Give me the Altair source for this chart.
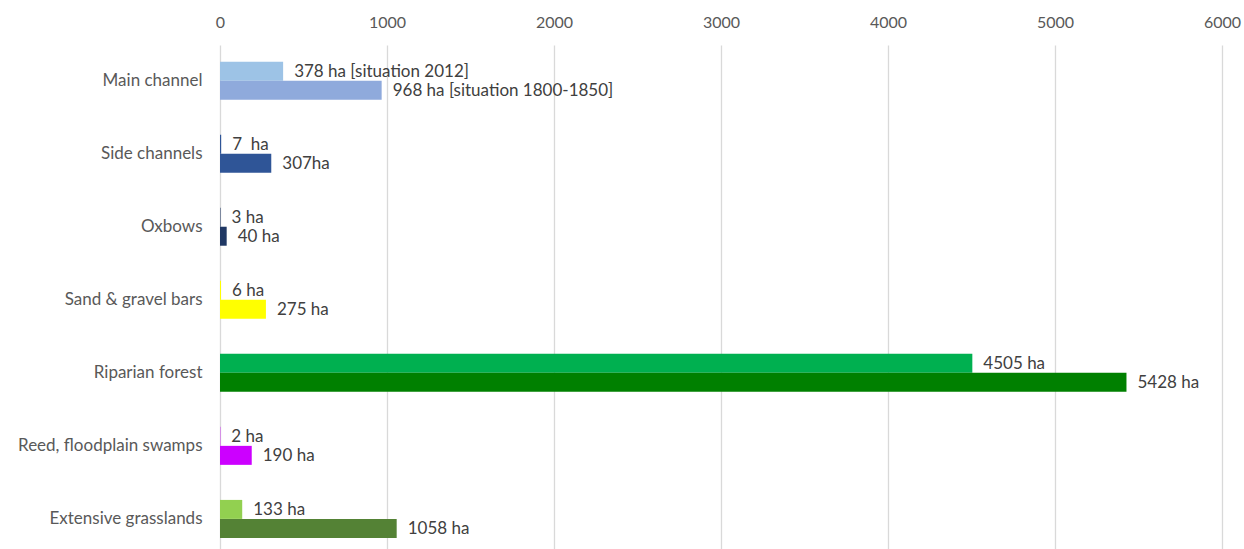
import altair as alt
import pandas as pd

categories = ["Main channel", "Side channels", "Oxbows", "Sand & gravel bars",
              "Riparian forest", "Reed, floodplain swamps", "Extensive grasslands"]
periods = ["2012", "1800-1850"]
values_2012 = [378, 7, 3, 6, 4505, 2, 133]
values_1800 = [968, 307, 40, 275, 5428, 190, 1058]
labels_2012 = ["378 ha [situation 2012]", "7\u00a0 ha", "3 ha", "6 ha", "4505 ha", "2 ha", "133 ha"]
labels_1800 = ["968 ha [situation 1800-1850]", "307ha", "40 ha", "275 ha", "5428 ha", "190 ha", "1058 ha"]
colors_2012 = ["#9DC3E6", "#2F5597", "#203864", "#FFFF00", "#00B050", "#CC00FF", "#92D050"]
colors_1800 = ["#8FAADC", "#2F5597", "#203864", "#FFFF00", "#008000", "#CC00FF", "#548235"]
x_ticks = [0, 1000, 2000, 3000, 4000, 5000, 6000]

rows = []
for i, c in enumerate(categories):
    rows.append({"category": c, "period": periods[0], "value": values_2012[i],
                 "label": labels_2012[i], "color": colors_2012[i]})
    rows.append({"category": c, "period": periods[1], "value": values_1800[i],
                 "label": labels_1800[i], "color": colors_1800[i]})
df = pd.DataFrame(rows)

FONT = "Lato"

base = alt.Chart(df).encode(
    x=alt.X("value:Q",
            scale=alt.Scale(domain=[0, 6000], nice=False),
            axis=alt.Axis(orient="top", values=x_ticks, grid=True, gridColor="#D9D9D9",
                          gridWidth=1.3, domain=False, ticks=False, labelPadding=15,
                          labelFlush=False, labelFontSize=16, labelColor="#595959",
                          labelFont=FONT, title=None, format="d")),
    y=alt.Y("category:N", sort=categories,
            scale=alt.Scale(paddingInner=0.48, paddingOuter=0.19, align=0.6),
            axis=alt.Axis(orient="left", domain=False, ticks=False, labelPadding=18,
                          grid=False, labelFontSize=17, labelColor="#595959",
                          labelFont=FONT, labelLimit=400, title=None)),
    yOffset=alt.YOffset("period:N", sort=periods,
                        scale=alt.Scale(paddingInner=0, paddingOuter=0)),
)
bars = base.mark_bar(cornerRadius=0).encode(
    color=alt.Color("color:N", scale=None),
)
texts = base.mark_text(align="left", baseline="middle", dx=11, dy=1,
                       fontSize=17, font=FONT, color="#404040").encode(
    text="label:N",
)

chart = (bars + texts).properties(
    width=1002, height=504,
    background="white",
    autosize=alt.AutoSizeParams(type="none"),
    padding={"left": 220, "top": 45, "right": 22, "bottom": 0},
).configure_view(strokeWidth=0, stroke="transparent").configure_axis(domain=False)

chart.save("out.html", embed_options={"renderer": "svg", "actions": False})
